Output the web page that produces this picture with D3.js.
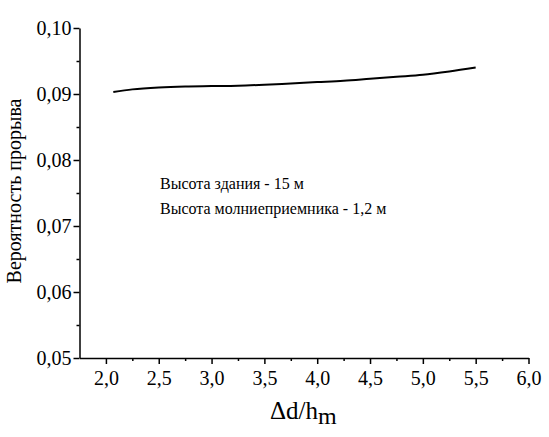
<!DOCTYPE html>
<html>
<head>
<meta charset="utf-8">
<script src="https://cdn.jsdelivr.net/npm/d3@7"></script>
<style>
  body { margin: 0; background: #fff; }
  svg { display: block; }
  svg text { font-family: "Times New Roman", Times, "Liberation Serif", "DejaVu Serif", serif; }
</style>
</head>
<body>
<svg id="chart"></svg>
<script>
// ratio of distance to rod height
const ratio = [2.07, 2.25, 2.5, 2.75, 3.0, 3.25, 3.5, 3.75, 4.0, 4.25, 4.5, 4.75, 5.0, 5.25, 5.5];
// breakthrough probability
const prob = [0.0903, 0.0907, 0.0910, 0.09115, 0.0912, 0.09125, 0.0914, 0.0916, 0.0918, 0.0920, 0.0923, 0.0926, 0.0929, 0.0934, 0.0940];
const xTicks = [2.0, 2.5, 3.0, 3.5, 4.0, 4.5, 5.0, 5.5, 6.0];
const yTicks = [0.05, 0.06, 0.07, 0.08, 0.09, 0.10];
const notes = ['Высота здания - 15 м', 'Высота молниеприемника - 1,2 м'];

const W = 549, H = 437;
const svg = d3.select('#chart').attr('width', W).attr('height', H);

const x = d3.scaleLinear().domain([1.75, 6.0]).range([79.5, 528.5]);
const y = d3.scaleLinear().domain([0.05, 0.10]).range([358, 28]);
const fmt = d => d.toFixed(d < 0.5 ? 2 : 1).replace('.', ',');

// minor ticks first
svg.append('g')
  .attr('transform', `translate(0,${y(0.05)})`)
  .call(d3.axisBottom(x).tickValues(d3.range(2.25, 6.0, 0.5)).tickSize(3).tickFormat(''))
  .call(g => g.select('.domain').remove())
  .call(g => g.selectAll('line').attr('stroke-width', 1.5));

svg.append('g')
  .attr('transform', `translate(${x(1.75)},0)`)
  .call(d3.axisLeft(y).tickValues(d3.range(0.055, 0.1, 0.01)).tickSize(3).tickFormat(''))
  .call(g => g.select('.domain').remove())
  .call(g => g.selectAll('line').attr('stroke-width', 1.5));

// major axes
const xAxis = svg.append('g')
  .attr('transform', `translate(0,${y(0.05)})`)
  .call(d3.axisBottom(x).tickValues(xTicks).tickSize(6).tickSizeOuter(0).tickPadding(7).tickFormat(fmt));

const yAxis = svg.append('g')
  .attr('transform', `translate(${x(1.75)},0)`)
  .call(d3.axisLeft(y).tickValues(yTicks).tickSize(6).tickSizeOuter(0).tickPadding(2).tickFormat(fmt));

[xAxis, yAxis].forEach(g => {
  g.attr('font-family', null);
  g.select('.domain').attr('stroke-width', 1.5);
  g.selectAll('line').attr('stroke-width', 1.5);
  g.selectAll('text').attr('font-size', 20).attr('fill', '#000');
});

// curve
svg.append('path')
  .datum(ratio.map((r, i) => [r, prob[i]]))
  .attr('fill', 'none')
  .attr('stroke', '#000')
  .attr('stroke-width', 2)
  .attr('d', d3.line().curve(d3.curveMonotoneX).x(d => x(d[0])).y(d => y(d[1])));

// notes
svg.selectAll('.note')
  .data(notes)
  .enter().append('text')
  .attr('x', 160)
  .attr('y', (d, i) => 189 + i * 25)
  .attr('font-size', 16)
  .text(d => d);

// axis titles
svg.append('text')
  .attr('transform', 'translate(21,191) rotate(-90)')
  .attr('text-anchor', 'middle')
  .attr('font-size', 20)
  .text('Вероятность прорыва');

const xt = svg.append('text')
  .attr('x', 270)
  .attr('y', 419)
  .attr('font-size', 25);
xt.append('tspan').text('Δd/h');
xt.append('tspan').attr('dy', 5).attr('font-size', 24).text('m');
</script>
</body>
</html>
